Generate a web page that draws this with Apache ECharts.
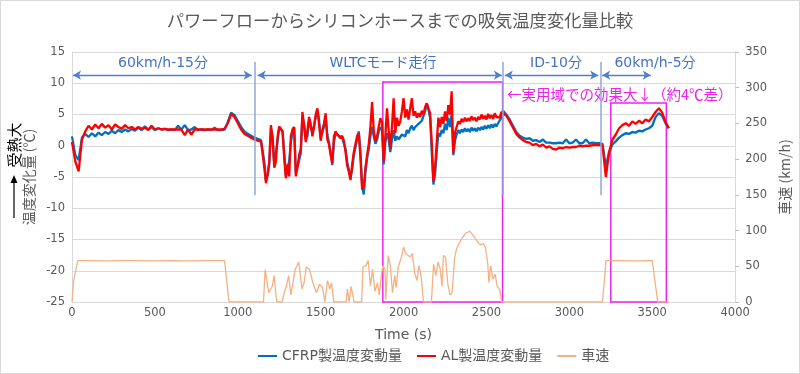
<!DOCTYPE html>
<html>
<head>
<meta charset="utf-8">
<script src="https://cdn.jsdelivr.net/npm/echarts@6/dist/echarts.min.js"></script>
<style>
html,body{margin:0;padding:0;background:#fff;}
#main{width:800px;height:374px;}
</style>
</head>
<body>
<div id="main"></div>
<script>
// time axis (s)
const tempTime = [
0,20,40,60,80,100,120,140,160,180,
200,220,240,260,280,300,320,340,360,380,
400,420,440,460,480,500,520,540,560,580,
600,620,640,660,680,700,720,740,760,780,
800,820,840,860,880,900,920,940,960,980,
1000,1020,1040,1060,1080,1100,1120,1140,
1150,1160,1170,1180,1190,1200,1210,1220,1230,1240,
1250,1260,1270,1280,1290,1300,1310,1320,1330,1340,
1350,1360,1370,1380,1390,1400,1410,1420,1430,1440,
1450,1460,1470,1480,1490,1500,1510,1520,1530,1540,
1550,1560,1570,1580,1590,1600,1610,1620,1630,1640,
1650,1660,1670,1680,1690,1700,1710,1720,1730,1740,
1750,1760,1770,1780,1790,1800,1810,1820,1830,1840,
1850,1860,1870,1880,1890,1900,1910,1920,1930,1940,
1950,1960,1970,1980,1990,2000,2010,2020,2030,2040,
2050,2060,2070,2080,2090,2100,2110,2120,2130,2140,
2150,2160,2170,2180,2190,2200,2210,2220,2230,2240,
2250,2260,2270,2280,2290,2300,2310,2320,2330,2340,
2350,2360,2370,2380,2390,2400,2410,2420,2430,2440,
2450,2460,2470,2480,2490,2500,2510,2520,2530,2540,
2550,2560,2570,2580,2590,2600,
2620,2640,2660,2680,2700,2720,2740,2760,2780,2800,
2820,2840,2860,2880,2900,2920,2940,2960,2980,3000,
3020,3040,3060,3080,3100,3120,3140,3160,3180,3200,
3220,3240,3260,3280,3300,3320,3340,3360,3380,3400,
3420,3440,3460,3480,3500,3520,3540,3560,3580,3600
];
// CFRP temperature change (℃)
const cfrpTemp = [
1.5,-1.5,-2.3,1.3,1.9,1.4,2.0,1.5,2.1,1.7,
2.2,1.9,2.4,2.0,2.5,2.2,2.6,2.3,2.7,2.4,
2.9,2.5,3.1,2.6,3.0,2.5,2.8,2.6,2.7,2.5,
2.6,2.5,3.2,2.6,3.3,2.5,2.6,3.0,2.5,2.6,
2.5,2.6,2.5,2.9,2.5,2.5,2.6,3.8,5.3,4.9,
4.0,3.0,2.3,1.9,1.6,1.3,1.1,0.9,
1.2,-2.5,-5.6,-4.8,-3.0,2.8,1.5,-3.0,-3.2,0.8,
2.8,3.0,2.4,-1.0,-4.8,-3.6,-2.5,0.5,2.2,2.9,
-4.3,-4.0,-2.3,-1.2,4.8,3.5,1.0,1.5,4.0,3.8,
2.0,2.3,4.5,5.8,4.2,1.2,1.5,3.0,4.5,1.8,
0.5,-1.0,-3.1,0.5,2.0,2.1,1.6,1.4,1.2,1.1,
-0.5,-2.6,-3.8,-5.0,-3.8,-1.5,-0.2,1.0,2.3,-1.0,
-6.5,-7.8,-4.2,-2.0,-0.5,1.5,3.0,1.5,0.3,1.0,
2.2,3.0,2.5,-3.0,0.5,2.0,1.0,-1.0,1.0,2.5,
0.8,1.5,1.0,0.7,1.8,2.0,1.5,2.5,2.0,2.8,
3.2,2.5,3.0,3.0,3.5,3.3,4.0,3.8,5.5,6.8,
5.8,4.5,-1.0,-6.2,-4.5,-1.0,2.0,1.5,2.5,2.0,
3.5,2.5,4.5,3.0,5.0,-1.5,0.8,1.8,2.5,2.0,
2.6,2.2,2.8,2.3,2.7,2.2,2.9,2.4,2.8,2.3,
2.9,2.5,3.0,2.6,3.2,2.7,3.3,2.8,3.4,2.9,
3.5,3.1,3.6,3.4,4.5,5.6,
5.0,4.2,3.2,2.2,1.6,1.3,1.1,1.2,0.8,0.9,
0.6,1.0,0.5,0.5,0.4,0.4,0.5,0.4,1.0,0.4,
0.5,1.0,0.4,0.4,1.0,0.4,0.5,0.4,0.4,0.3,
-3.3,-1.0,0.2,0.7,1.3,1.7,2.0,1.9,2.2,2.1,
2.4,2.3,2.6,2.8,3.2,4.6,5.2,4.8,3.6,2.8
];
// AL temperature change (℃)
const alTemp = [
0.6,-2.5,-4.1,1.0,2.3,3.2,2.6,3.4,2.8,3.5,
2.9,3.3,2.6,3.4,3.0,2.7,3.3,2.8,3.0,2.6,
3.0,2.7,2.9,2.5,3.2,2.6,2.8,2.6,2.7,2.6,
2.6,2.6,2.6,2.6,1.7,2.6,1.8,2.6,2.6,2.6,
2.6,2.6,2.6,2.6,2.6,2.6,2.7,3.6,5.1,4.6,
3.6,2.6,1.9,1.6,1.3,1.0,0.8,0.7,
1.0,-3.5,-6.0,-4.5,-2.5,3.3,1.0,-3.5,-2.5,1.5,
3.1,2.7,2.2,-2.0,-5.2,-3.0,-4.9,1.5,2.6,3.0,
-4.9,-3.5,-1.5,-0.5,5.4,3.0,0.6,2.5,4.6,3.5,
1.5,3.0,5.0,6.0,3.5,0.8,2.5,3.6,5.2,1.0,
0.2,-1.5,-2.8,1.5,2.3,1.8,2.0,1.2,1.6,0.8,
-1.0,-3.2,-4.2,-5.5,-3.0,-1.0,0.3,1.6,2.0,-2.0,
-7.0,-6.5,-3.5,-1.5,0.3,3.0,7.0,2.5,0.8,1.5,
3.0,4.4,3.8,-2.5,1.5,6.0,2.5,-0.5,3.0,7.6,
2.0,4.5,3.2,3.9,5.5,7.6,4.5,5.8,4.2,6.0,
7.6,4.8,5.5,4.5,5.2,4.6,5.6,5.0,6.2,6.8,
6.0,5.2,0.5,-5.7,-3.5,0.5,4.5,3.0,4.6,3.5,
5.5,4.0,6.5,5.0,8.7,-1.2,2.1,3.0,3.9,3.5,
4.3,3.8,4.5,3.9,4.4,4.0,4.7,4.1,4.5,3.9,
4.6,4.2,5.0,4.3,4.8,4.2,5.1,4.4,4.9,4.3,
5.2,4.6,4.9,4.5,5.4,5.7,
4.8,3.9,2.9,1.9,1.3,0.9,0.6,0.5,0.1,0.3,
-0.1,0.2,-0.3,-0.1,-0.5,-0.6,-0.3,-0.4,-0.2,-0.3,
-0.2,-0.2,0.0,-0.1,0.0,0.0,0.1,0.1,0.1,0.0,
-5.0,-1.0,1.0,1.8,2.8,3.3,3.6,3.2,3.9,3.5,
4.0,3.6,4.2,3.9,4.6,5.4,6.0,5.3,3.8,2.8
];
// vehicle speed (km/h)
const speedTime = [
0,10,35,100,200,300,400,500,600,700,
800,900,920,947,1155,1165,1187,1208,1219,1235,
1267,1280,1293,1307,1320,1347,1368,1387,1400,1413,
1432,1453,1475,1493,1512,1525,1541,1555,1565,1579,
1653,1661,1672,1683,1693,1701,1747,1755,1773,1787,
1800,1813,1827,1843,1853,1867,1875,1888,1893,1907,
1920,1933,1947,1955,1968,1987,2000,2013,2040,2053,
2067,2080,2093,2107,2120,2168,2181,2195,2208,2221,
2232,2240,2253,2267,2280,2293,2307,2320,2347,2373,
2400,2427,2453,2467,2480,2493,2507,2515,2525,2539,
2552,2565,2579,2592,3200,3221,3300,3400,3500,3533,
3600
];
const speedValue = [
0,30,58,58,57.5,58,58,57.5,58,57.5,
58,58,58,0,0,45,13,22,37,0,
0,13,22,37,10,46,56,18,27,49,
46,27,13,25,20,0,30,18,27,0,
0,18,0,22,10,0,0,49,51,58,
22,46,15,27,10,39,51,46,3,65,
51,13,37,20,49,63,77,68,63,68,
41,30,51,34,0,0,53,37,56,46,
22,65,63,25,10,13,60,75,87,96,
99,91,82,80,82,77,56,27,51,32,
39,22,18,0,0,58,58,57.5,58,0,
0
];
const seriesNames = ['CFRP製温度変動量','AL製温度変動量','車速'];
// phase annotations (time in s, temperature level in ℃)
const phaseBounds = [1100, 2600, 3190];
const phaseArrows = [[6,1084],[1120,2593],[2611,3174],[3198,3491]];
const phaseLabels = ['60km/h-15分','WLTCモード走行','ID-10分','60km/h-5分'];
const highlightBoxes = [[1875,2597,10.2],[3250,3585,6.85]];

const FONT = "'DejaVu Sans','Noto Sans CJK JP',sans-serif";
const JP = "'Noto Sans CJK JP','DejaVu Sans',sans-serif";
const chart = echarts.init(document.getElementById('main'), null, {renderer:'canvas'});

const pairs = (xs, ys) => xs.map((x, i) => [x, ys[i]]);

const markLineData = [];
phaseBounds.forEach(t => markLineData.push([
  {coord:[t,13.4], symbol:'none', lineStyle:{color:'#8FAADC',width:1.5}},
  {coord:[t,-7.9], symbol:'none'}
]));
phaseArrows.forEach(a => markLineData.push([
  {coord:[a[0],11.3], lineStyle:{color:'#4F81C7',width:1.3}},
  {coord:[a[1],11.3]}
]));

const option = {
  animation:false,
  backgroundColor:'#fff',
  title:{
    text:'パワーフローからシリコンホースまでの吸気温度変化量比較',
    left:'center', top:7,
    textStyle:{fontFamily:JP, fontSize:17.3, fontWeight:'normal', color:'#595959'}
  },
  grid:{left:72, right:60, top:52, bottom:72},
  legend:{
    data:seriesNames, left:253, top:344, itemWidth:19, itemHeight:2, itemGap:15,
    icon:'rect',
    textStyle:{fontFamily:FONT, fontSize:14, color:'#595959'}
  },
  xAxis:{
    type:'value', min:0, max:4000, interval:500,
    name:'Time (s)', nameLocation:'middle', nameGap:26,
    nameTextStyle:{fontFamily:FONT, fontSize:14, color:'#595959'},
    axisLine:{show:true, lineStyle:{color:'#D9D9D9'}},
    axisTick:{show:false},
    axisLabel:{fontFamily:FONT, fontSize:11.5, color:'#595959', margin:5, formatter:v => String(v)},
    splitLine:{show:false}
  },
  yAxis:[{
    type:'value', min:-25, max:15, interval:5,
    name:'温度変化量 (℃)', nameLocation:'middle', nameGap:33,
    nameTextStyle:{fontFamily:JP, fontSize:14, color:'#595959'},
    axisLine:{show:true, lineStyle:{color:'#D9D9D9'}},
    axisTick:{show:false},
    axisLabel:{fontFamily:FONT, fontSize:11.5, color:'#595959', margin:7},
    splitLine:{show:true, lineStyle:{color:'#D9D9D9'}}
  },{
    type:'value', min:0, max:350, interval:50, position:'right',
    name:'車速 (km/h)', nameLocation:'middle', nameGap:40,
    nameTextStyle:{fontFamily:JP, fontSize:14, color:'#595959'},
    axisLine:{show:true, lineStyle:{color:'#D9D9D9'}},
    axisTick:{show:true, length:4, lineStyle:{color:'#BFBFBF'}},
    axisLabel:{fontFamily:FONT, fontSize:11.5, color:'#595959', margin:10},
    splitLine:{show:false}
  }],
  series:[{
    name:seriesNames[0], type:'line', data:pairs(tempTime, cfrpTemp),
    symbol:'none', color:'#0070C0', lineStyle:{width:2.3, color:'#0070C0'},
    markLine:{
      silent:true, symbol:['arrow','arrow'], symbolSize:[7,8],
      label:{show:false},
      lineStyle:{type:'solid'},
      data:markLineData
    },
    z:2
  },{
    name:seriesNames[1], type:'line', data:pairs(tempTime, alTemp),
    symbol:'none', color:'#FF0000', lineStyle:{width:2.3, color:'#FF0000'},
    markArea:{
      silent:true,
      itemStyle:{color:'rgba(0,0,0,0)', borderColor:'#EE22EE', borderWidth:1.5},
      data:highlightBoxes.map(b => [{coord:[b[0], b[2]]},{coord:[b[1], -25]}])
    },
    z:3
  },{
    name:seriesNames[2], type:'line', yAxisIndex:1, data:pairs(speedTime, speedValue),
    symbol:'none', color:'#F4B183', lineStyle:{width:1.3, color:'#F4B183'},
    z:1
  }],
  graphic:[
    {type:'rect', shape:{x:0.5,y:0.5,width:799,height:373}, style:{fill:null, stroke:'#D9D9D9', lineWidth:1}, silent:true},
    {type:'text', x:163, y:63, style:{text:phaseLabels[0], font:"14px "+FONT, fill:'#4472C4', align:'center', verticalAlign:'middle'}},
    {type:'text', x:383, y:63, style:{text:phaseLabels[1], font:"14px "+FONT, fill:'#4472C4', align:'center', verticalAlign:'middle'}},
    {type:'text', x:556, y:63, style:{text:phaseLabels[2], font:"14px "+FONT, fill:'#4472C4', align:'center', verticalAlign:'middle'}},
    {type:'text', x:655, y:63, style:{text:phaseLabels[3], font:"14px "+FONT, fill:'#4472C4', align:'center', verticalAlign:'middle'}},
    {type:'text', x:507, y:94, style:{text:'←実用域での効果大↓（約4℃差）', font:"14.5px "+JP, fill:'#EE22EE', align:'left', verticalAlign:'middle'}},
    {type:'text', x:14, y:145, rotation:Math.PI/2, style:{text:'受熱大', font:"15px "+JP, fill:'#000', align:'center', verticalAlign:'middle'}},
    {type:'line', shape:{x1:14,y1:218,x2:14,y2:182}, style:{stroke:'#000', lineWidth:1.2}},
    {type:'polygon', shape:{points:[[14,175],[10.5,183],[17.5,183]]}, style:{fill:'#000'}}
  ]
};
chart.setOption(option);
</script>
</body>
</html>
